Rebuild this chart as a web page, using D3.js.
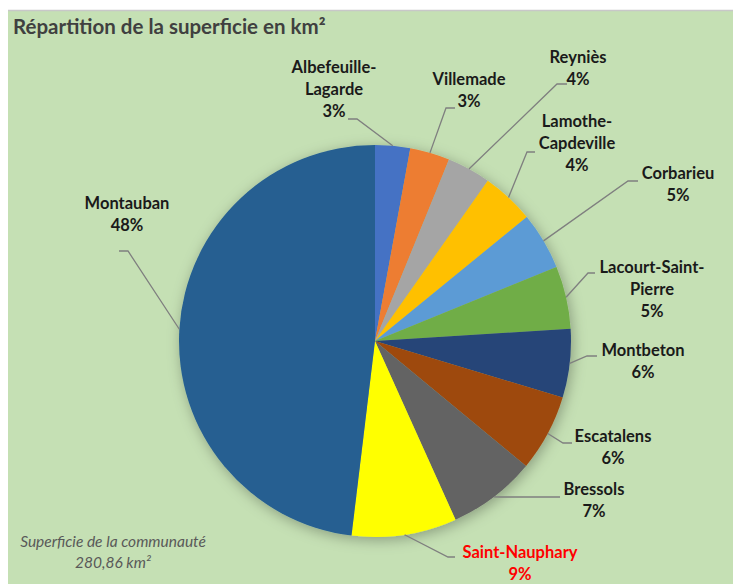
<!DOCTYPE html>
<html>
<head>
<meta charset="utf-8">
<script src="https://cdn.jsdelivr.net/npm/d3@7"></script>
<style>
  body { margin: 0; background: #fff; }
  text { font-family: Lato, "Open Sans", sans-serif; }
</style>
</head>
<body>
<div class="box"></div>
<script>
// données (km²)
const communes = ['Albefeuille-Lagarde', 'Villemade', 'Reyniès', 'Lamothe-Capdeville', 'Corbarieu',
                  'Lacourt-Saint-Pierre', 'Montbeton', 'Escatalens', 'Bressols', 'Saint-Nauphary', 'Montauban'];
const superficies = [8.1, 9.2, 10.1, 12.2, 13.3, 14.5, 15.9, 17.8, 20.4, 24.3, 135.06];
const lignesEtiquettes = [['Albefeuille-', 'Lagarde'], ['Villemade'], ['Reyniès'], ['Lamothe-', 'Capdeville'],
                          ['Corbarieu'], ['Lacourt-Saint-', 'Pierre'], ['Montbeton'], ['Escatalens'],
                          ['Bressols'], ['Saint-Nauphary'], ['Montauban']];
const couleurs = ['#4472c4', '#ed7d31', '#a5a5a5', '#ffc000', '#5b9bd5', '#70ad47',
                  '#264478', '#9e480e', '#636363', '#ffff00', '#255e91'];
const totalTexte = '280,86 km²';

// placement des étiquettes : centre texte, coude et fin du trait de rappel
const placement = [
  {x: 334, y: 73, cx: 357, cy: 119, ex: 348},
  {x: 469, y: 85, cx: 446, cy: 108, ex: 455},
  {x: 578, y: 63, cx: 557, cy: 84, ex: 567},
  {x: 577, y: 127, cx: 527, cy: 152, ex: 535},
  {x: 678, y: 179, cx: 628, cy: 181, ex: 638},
  {x: 652, y: 273, cx: 588, cy: 273, ex: 595},
  {x: 643, y: 356, cx: 587, cy: 356, ex: 597},
  {x: 613, y: 442, cx: 563, cy: 443, ex: 572},
  {x: 594, y: 495, cx: 500, cy: 497, ex: 560},
  {x: 520, y: 558, cx: 448, cy: 557, ex: 455},
  {x: 127, y: 209, cx: 128, cy: 251, ex: 119}
];

const width = 733, height = 584;
const svg = d3.select('.box')
              .append('svg')
              .attr('width', width)
              .attr('height', height);

// fond
svg.append('rect')
   .attr('x', 8).attr('y', 10)
   .attr('width', width - 8).attr('height', height - 10)
   .attr('fill', '#c5e0b4');
svg.append('line')
   .attr('x1', 8).attr('x2', width).attr('y1', 10.5).attr('y2', 10.5)
   .attr('stroke', '#c8c8c8').attr('stroke-width', 1.5);

svg.append('text')
   .attr('x', 13).attr('y', 34)
   .attr('font-size', 20.5).attr('font-weight', 'bold')
   .attr('fill', '#404040')
   .text('Répartition de la superficie en km²');

const defs = svg.append('defs');
const filtre = defs.append('filter').attr('id', 'ombre')
                   .attr('x', '-20%').attr('y', '-20%').attr('width', '140%').attr('height', '140%');
filtre.append('feDropShadow')
      .attr('dx', 2).attr('dy', 3).attr('stdDeviation', 7)
      .attr('flood-color', '#000').attr('flood-opacity', 0.3);

const cx = 375, cy = 341, rayon = 196;
const total = d3.sum(superficies);
const donnee = communes.map((c, i) => ({nom: c, valeur: superficies[i], i: i}));

const pie = d3.pie().sort(null).value(d => d.valeur);
const arc = d3.arc().innerRadius(0).outerRadius(rayon);
const arcs = pie(donnee);

const graph = svg.append('g').attr('transform', `translate(${cx}, ${cy})`);

graph.append('g')
     .attr('filter', 'url(#ombre)')
     .selectAll('path')
     .data(arcs)
     .enter()
     .append('path')
     .attr('d', arc)
     .attr('fill', d => couleurs[d.data.i]);

// traits de rappel
const format = d3.format('.0%');
svg.append('g')
   .selectAll('polyline')
   .data(arcs)
   .enter()
   .append('polyline')
   .attr('points', d => {
       const a = (d.startAngle + d.endAngle) / 2;
       const p = placement[d.data.i];
       const x0 = cx + rayon * Math.sin(a), y0 = cy - rayon * Math.cos(a);
       return [[x0, y0], [p.cx, p.cy], [p.ex, p.cy]].map(q => q.join(',')).join(' ');
   })
   .attr('fill', 'none')
   .attr('stroke', '#7f7f7f')
   .attr('stroke-width', 1.3);

// étiquettes
const etiquettes = svg.append('g')
   .selectAll('text')
   .data(arcs)
   .enter()
   .append('text')
   .attr('text-anchor', 'middle')
   .attr('font-size', 16.5)
   .attr('font-weight', 'bold')
   .attr('fill', d => d.data.nom === 'Saint-Nauphary' ? '#ff0000' : '#1a1a1a');

etiquettes.each(function(d) {
    const p = placement[d.data.i];
    const lignes = lignesEtiquettes[d.data.i].concat([format(d.data.valeur / total)]);
    d3.select(this).selectAll('tspan')
      .data(lignes)
      .enter()
      .append('tspan')
      .attr('x', p.x)
      .attr('y', (l, j) => p.y + j * 22)
      .text(l => l);
});

// total
const note = svg.append('text')
   .attr('text-anchor', 'middle')
   .attr('font-size', 15.5)
   .attr('font-style', 'italic')
   .attr('fill', '#595959');
note.append('tspan').attr('x', 113).attr('y', 547).text('Superficie de la communauté');
note.append('tspan').attr('x', 113).attr('y', 568).text(totalTexte);
</script>
</body>
</html>
